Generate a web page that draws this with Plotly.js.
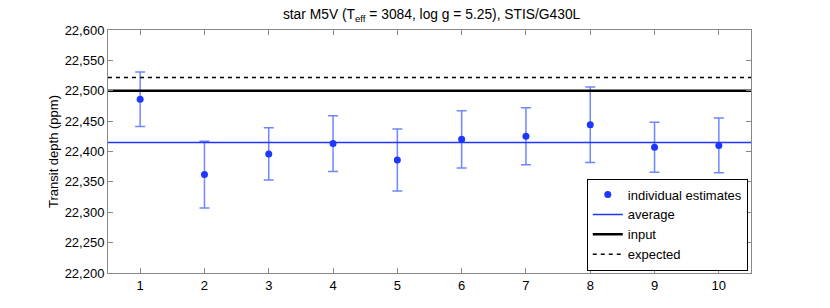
<!DOCTYPE html>
<html>
<head>
<meta charset="utf-8">
<script src="https://cdn.plot.ly/plotly-3.0.1.min.js"></script>
<style>html,body{margin:0;padding:0;background:#fff;}#chart{width:830px;height:308px;}</style>
</head>
<body>
<div id="chart"></div>
<script>
// Data
var runs = [1, 2, 3, 4, 5, 6, 7, 8, 9, 10];
var estimates = [22486, 22362, 22396, 22413, 22386, 22420, 22425, 22444, 22407, 22410];
var errors = [45, 55, 43, 46, 51, 47, 47, 62, 41, 45];
var averageValue = 22415;
var inputValue = 22500;
var expectedValue = 22522;
var xRange = [0.5, 10.5];
var yRange = [22200, 22600];
var yTicks = [22200, 22250, 22300, 22350, 22400, 22450, 22500, 22550, 22600];
var seriesNames = ['individual estimates', 'average', 'input', 'expected'];

var blue = 'rgb(30,55,255)';
var errBlue = 'rgb(110,135,255)';
var font = 'Liberation Sans, Arial, Helvetica, sans-serif';

var traces = [
  {
    x: runs, y: estimates, type: 'scatter', mode: 'markers',
    name: seriesNames[0],
    marker: {color: blue, size: 7},
    error_y: {type: 'data', array: errors, visible: true, color: errBlue, thickness: 1.5, width: 5}
  },
  {
    x: xRange, y: [averageValue, averageValue], type: 'scatter', mode: 'lines',
    name: seriesNames[1], line: {color: blue, width: 1.5}
  },
  {
    x: xRange, y: [inputValue, inputValue], type: 'scatter', mode: 'lines',
    name: seriesNames[2], line: {color: 'black', width: 2.5}
  },
  {
    x: xRange, y: [expectedValue, expectedValue], type: 'scatter', mode: 'lines',
    name: seriesNames[3], line: {color: 'black', width: 1.5, dash: '4px,4px'}
  }
];

var layout = {
  width: 830, height: 308,
  margin: {l: 108, r: 79, t: 30, b: 35},
  paper_bgcolor: 'white', plot_bgcolor: 'white',
  font: {family: font, size: 13, color: '#000'},
  title: {
    text: 'star M5V (T<sub>eff</sub> = 3084, log g = 5.25), STIS/G430L',
    font: {family: font, size: 13.8, color: '#000'},
    x: 0.52, xanchor: 'center', y: 0.955, yanchor: 'middle'
  },
  xaxis: {
    range: xRange, tickmode: 'array', tickvals: runs, ticktext: runs.map(String),
    ticks: 'inside', ticklen: 5, tickcolor: '#888', tickwidth: 1,
    showline: true, linecolor: '#888', linewidth: 1, mirror: 'ticks',
    showgrid: false, zeroline: false,
    tickfont: {family: font, size: 13, color: '#000'}
  },
  yaxis: {
    range: yRange, tickmode: 'array', tickvals: yTicks,
    ticktext: yTicks.map(function(v){return v.toLocaleString('en-US');}),
    ticks: 'inside', ticklen: 5, tickcolor: '#888', tickwidth: 1,
    showline: true, linecolor: '#888', linewidth: 1, mirror: 'ticks',
    showgrid: false, zeroline: false,
    tickfont: {family: font, size: 13, color: '#000'},
    title: {text: 'Transit depth (ppm)', font: {family: font, size: 13, color: '#000'}, standoff: 3}
  },
  showlegend: true,
  legend: {
    x: 0.995, xanchor: 'right', y: 0.01, yanchor: 'bottom',
    bgcolor: 'white', bordercolor: '#000', borderwidth: 1,
    font: {family: font, size: 13, color: '#000'},
    tracegroupgap: 0, itemwidth: 30
  }
};

Plotly.newPlot('chart', traces, layout, {displayModeBar: false, staticPlot: true});
</script>
</body>
</html>
